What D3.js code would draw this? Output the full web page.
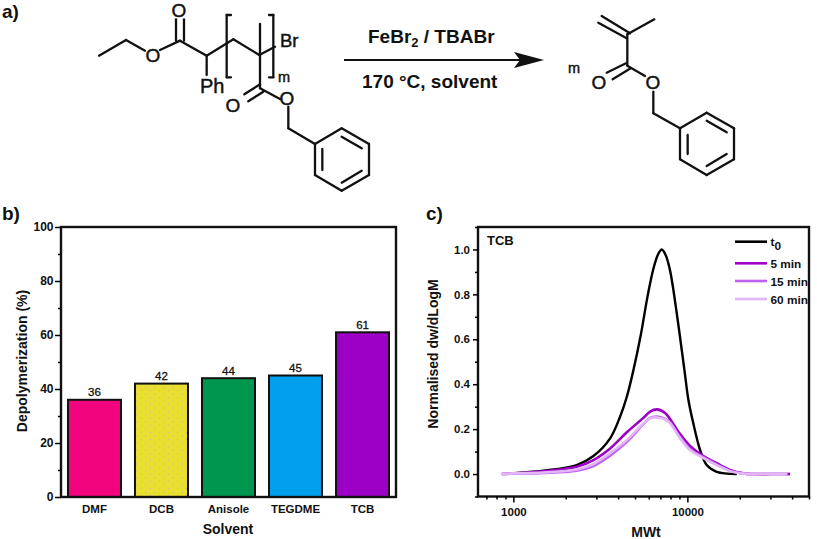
<!DOCTYPE html>
<html><head><meta charset="utf-8">
<script src="https://cdnjs.cloudflare.com/ajax/libs/d3/7.8.5/d3.min.js"></script>
<style>
html,body{margin:0;padding:0;background:#fff}
svg{display:block}
text{font-family:"Liberation Sans",Arial,sans-serif;fill:#111}
</style></head><body>
<svg id="c" width="817" height="539"></svg>
<script>
// ---------- Panel b data ----------
const solvents = ["DMF","DCB","Anisole","TEGDME","TCB"];
const depolymerization = [36,42,44,45,61];
const barColors = ["#f2047f","#e9df2e","#00964f","#00a0ef","#9b00c4"];
const yTicksB = [0,20,40,60,80,100];
const yMinorB = [10,30,50,70,90];

// ---------- Panel c data ----------
const mwT0 = [960,1486,2312,2884,3597,4102,4487,4898,5400,5900,6383,6800,7129,7500,7943,8690,9616,10139,10814,11830,12909,14750,19230];
const valT0 = [0.003,0.015,0.04,0.08,0.159,0.255,0.344,0.463,0.62,0.79,0.915,0.98,1.0,0.975,0.908,0.715,0.463,0.33,0.226,0.107,0.04,0.01,0];
const mwGpc = [857,1000,1486,2312,2884,3597,4487,5585,6107,6698,7447,7943,9078,10353,12360,14750,17580,20990,24000,30000,37500];
const val5 = [0,0.003,0.012,0.032,0.062,0.114,0.186,0.25,0.278,0.288,0.272,0.245,0.178,0.125,0.08,0.048,0.018,0.003,0,0,0];
const val15 = [0,0.002,0.005,0.015,0.036,0.082,0.143,0.222,0.25,0.256,0.246,0.23,0.165,0.112,0.075,0.043,0.015,0.003,0,0,0];
const val60 = [0,0.003,0.007,0.02,0.044,0.093,0.151,0.225,0.248,0.252,0.243,0.227,0.16,0.107,0.071,0.04,0.013,0.002,0,0,0];
const seriesNames = ["t0","5 min","15 min","60 min"];
const seriesColors = ["#000000","#9b00c4","#c060ee","#e2b5f5"];
const yTicksC = [0,0.2,0.4,0.6,0.8,1.0];
const yMinorC = [-0.1,0.1,0.3,0.5,0.7,0.9,1.1];
const xTicksC = [1000,10000];
const xMinorC = [700,800,900,2000,3000,4000,5000,6000,7000,8000,9000,20000,30000,40000,50000];

const svg = d3.select("#c");
const defs = svg.append("defs");
const pat = defs.append("pattern").attr("id","dots").attr("width",9).attr("height",7)
  .attr("patternUnits","userSpaceOnUse");
pat.append("rect").attr("width",9).attr("height",7).attr("fill","#e9df2e");
pat.append("circle").attr("cx",2).attr("cy",2).attr("r",0.7).attr("fill","#d9b89a");
pat.append("circle").attr("cx",6.5).attr("cy",5.5).attr("r",0.7).attr("fill","#d9b89a");

function label(x,y,t,size,weight,anchor){
  return svg.append("text").attr("x",x).attr("y",y).attr("font-size",size).attr("font-weight",weight||"bold")
    .attr("text-anchor",anchor||"middle").text(t);
}
function atom(x,y,t,size,anchor){
  return label(x,y,t,size,"normal",anchor).attr("stroke","#111").attr("stroke-width",0.45);
}
function styleAxis(g,size){
  g.select(".domain").remove();
  g.selectAll("line").attr("stroke","#000").attr("stroke-width",1.5);
  g.selectAll("text").attr("font-size",size).attr("font-weight","bold")
    .attr("font-family",'"Liberation Sans",Arial,sans-serif').attr("fill","#111");
}

// ---------- Panel b ----------
const bL=61,bR=396,bT=227,bB=497;
const xB = d3.scaleBand().domain(solvents).range([bL,bR]).paddingInner(0.209).paddingOuter(0.104);
const yB = d3.scaleLinear().domain([0,100]).range([bB,bT]);
svg.append("g").selectAll("rect").data(solvents).join("rect")
  .attr("x",d=>xB(d)).attr("width",xB.bandwidth())
  .attr("y",(d,i)=>yB(depolymerization[i])).attr("height",(d,i)=>bB-yB(depolymerization[i]))
  .attr("fill",(d,i)=>d==="DCB"?"url(#dots)":barColors[i])
  .attr("stroke","#111").attr("stroke-width",2);
svg.append("g").selectAll("text").data(solvents).join("text")
  .attr("x",d=>xB(d)+xB.bandwidth()/2).attr("y",(d,i)=>yB(depolymerization[i])-3.5)
  .attr("text-anchor","middle").attr("font-size",11.5).attr("stroke","#111").attr("stroke-width",0.3)
  .text((d,i)=>depolymerization[i]);
svg.append("rect").attr("x",bL).attr("y",bT).attr("width",bR-bL).attr("height",bB-bT)
  .attr("fill","none").attr("stroke","#111").attr("stroke-width",2.4);
let g=svg.append("g").attr("transform",`translate(${bL},0)`)
  .call(d3.axisLeft(yB).tickValues(yTicksB).tickSize(6).tickPadding(1.5).tickFormat(d3.format("d")));
styleAxis(g,12);
g=svg.append("g").attr("transform",`translate(${bL},0)`)
  .call(d3.axisLeft(yB).tickValues(yMinorB).tickSize(3).tickFormat(""));
styleAxis(g,12);
g=svg.append("g").attr("transform",`translate(0,${bB})`)
  .call(d3.axisBottom(xB).tickSize(0).tickPadding(7.5));
styleAxis(g,11.5);
label(228,534,"Solvent",14);
svg.append("text").attr("font-size",14).attr("font-weight","bold").attr("text-anchor","middle")
  .attr("transform","translate(27,361) rotate(-90)").text("Depolymerization (%)");

// ---------- Panel c ----------
const cL=478,cR=809,cT=227,cB=496.5;
const xC = d3.scaleLog().domain([626,50000]).range([cL,cR]);
const yC = d3.scaleLinear().domain([-0.1,1.1]).range([cB,cT]);
const line = d3.line().x(d=>xC(d[0])).y(d=>yC(d[1])).curve(d3.curveCatmullRom.alpha(0.5));
const curves = [d3.zip(mwT0,valT0), d3.zip(mwGpc,val5), d3.zip(mwGpc,val15), d3.zip(mwGpc,val60)];
const extraEnd = [[37500,0],[38900,0]];
svg.append("path").attr("d",line(extraEnd)).attr("fill","none").attr("stroke",seriesColors[1]).attr("stroke-width",2.8);
curves.forEach((c,i)=>{
  svg.append("path").attr("d",line(c)).attr("fill","none")
    .attr("stroke",seriesColors[i]).attr("stroke-width",i===0?2.4:2.6);
});
svg.append("rect").attr("x",cL).attr("y",cT).attr("width",cR-cL).attr("height",cB-cT)
  .attr("fill","none").attr("stroke","#111").attr("stroke-width",2.4);
g=svg.append("g").attr("transform",`translate(${cL},0)`)
  .call(d3.axisLeft(yC).tickValues(yTicksC).tickSize(5).tickPadding(3).tickFormat(d3.format(".1f")));
styleAxis(g,11.5);
g=svg.append("g").attr("transform",`translate(${cL},0)`)
  .call(d3.axisLeft(yC).tickValues(yMinorC).tickSize(3).tickFormat(""));
styleAxis(g,11.5);
g=svg.append("g").attr("transform",`translate(0,${cB})`)
  .call(d3.axisBottom(xC).tickValues(xTicksC).tickSize(6).tickPadding(5).tickFormat(d3.format("d")));
styleAxis(g,11.5);
g=svg.append("g").attr("transform",`translate(0,${cB})`)
  .call(d3.axisBottom(xC).tickValues(xMinorC).tickSize(3).tickFormat(""));
styleAxis(g,11.5);
label(646,537,"MWt",14);
svg.append("text").attr("font-size",14).attr("font-weight","bold").attr("text-anchor","middle")
  .attr("transform","translate(438,354) rotate(-90)").text("Normalised dw/dLogM");
label(487,245,"TCB",13,"bold","start");

// legend
const legendY=[241.7,263.3,281,299];
seriesNames.forEach((n,i)=>{
  svg.append("line").attr("x1",735).attr("x2",767).attr("y1",legendY[i]).attr("y2",legendY[i])
    .attr("stroke",seriesColors[i]).attr("stroke-width",2.6);
  const t=svg.append("text").attr("x",770.5).attr("y",legendY[i]+4.5).attr("font-size",11.8).attr("font-weight","bold");
  if(n==="t0"){ t.append("tspan").text("t"); t.append("tspan").attr("dy",4).text("0"); }
  else t.text(n);
});

// ---------- Panel letters ----------
label(2,18,"a)",19,"bold","start");
label(2,220,"b)",19,"bold","start");
label(426,220,"c)",19,"bold","start");

// ---------- Panel a: reaction scheme (segments in zoom units /3) ----------
const schemeLeft = [
 [297,167,378,120],[378,120,435,152],[480,150,540,122],
 [528,122,528,58],[552,122,552,58],[540,122,620,167],[620,167,620,225],
 [620,167,700,118],[700,118,778,165],[778,165,825,140],[780,72,780,265],
 [693,45,680,45],[680,45,680,232],[680,232,693,232],
 [807,45,820,45],[820,45,820,232],[820,232,807,232],
 [733,283,780,253],[745,304,790,275],[780,265,840,297],[865,320,865,385],[865,385,945,432],
 [945,432,1025,385],[1025,385,1107,432],[1107,432,1107,525],[1107,525,1025,572],[1025,572,945,525],[945,525,945,432],
 [967,447,967,510],[1025,410,1085,445],[1025,548,1085,512]
];
const schemeRight = [
 [535,68,620,115],[545,48,630,100],[622,103,703,58],[622,103,622,197],
 [560,218,618,190],[578,238,632,205],[622,197,675,228],[700,275,700,340],[700,340,780,385],
 [780,385,860,338],[860,338,942,385],[942,385,942,478],[942,478,860,525],[860,525,780,478],[780,478,780,385],
 [803,405,803,462],[860,362,920,397],[860,498,920,462]
];
const sch = svg.append("g").attr("stroke","#111").attr("stroke-width",2.3).attr("stroke-linecap","round");
schemeLeft.forEach(s=>sch.append("line").attr("x1",s[0]/3).attr("y1",s[1]/3).attr("x2",s[2]/3).attr("y2",s[3]/3));
schemeRight.forEach(s=>sch.append("line").attr("x1",420+s[0]/3).attr("y1",s[1]/3).attr("x2",420+s[2]/3).attr("y2",s[3]/3));
[[153,62,"O"],[179,17,"O"],[233,112,"O"],[287,105,"O"],[599,89,"O"],[653,89,"O"]].forEach(a=>atom(a[0],a[1],a[2],19));
atom(200,93,"Ph",20,"start");
atom(280,47,"Br",18.5,"start");
atom(278,82,"m",14.5,"start");
atom(568,73,"m",14.5,"start");
// reaction arrow
svg.append("line").attr("x1",344).attr("x2",522).attr("y1",60).attr("y2",60).attr("stroke","#111").attr("stroke-width",2);
svg.append("path").attr("d","M544,60 L514,52 L520,60 L514,68 Z").attr("fill","#111");
const t1=label(368,43,"",19,"bold","start");
t1.append("tspan").text("FeBr");
t1.append("tspan").attr("dy",4).attr("font-size",13).text("2");
t1.append("tspan").attr("dy",-4).text(" / TBABr");
label(362,88,"170 °C, solvent",19,"bold","start");
</script>
</body></html>
